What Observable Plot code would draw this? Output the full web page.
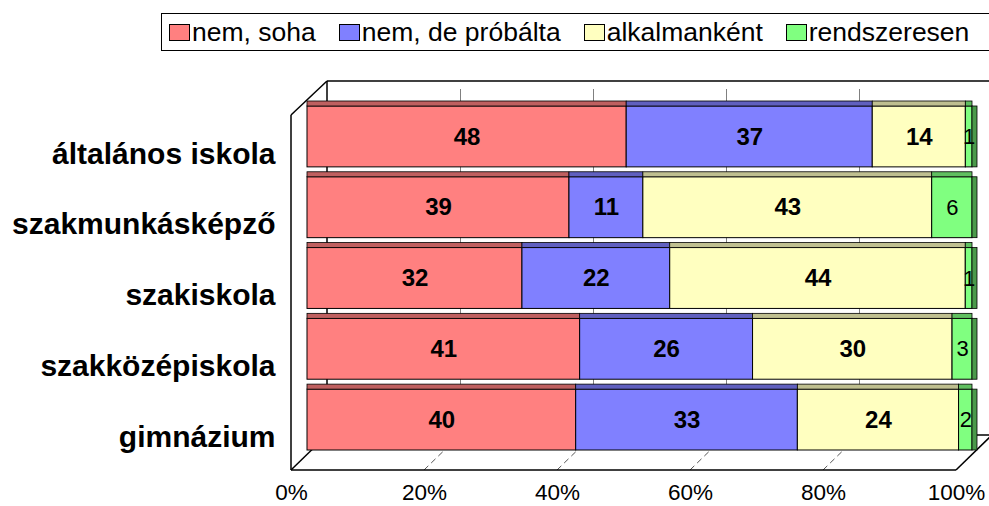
<!DOCTYPE html>
<html>
<head>
<meta charset="utf-8">
<script src="https://cdn.jsdelivr.net/npm/d3@7"></script>
<script src="https://cdn.jsdelivr.net/npm/@observablehq/plot@0.6"></script>
<style>
html,body{margin:0;padding:0;background:#fff;overflow:hidden;}
#wrap{position:relative;width:989px;height:506px;overflow:hidden;background:#fff;}
#chart{position:absolute;left:0;top:0;}
#legend{position:absolute;left:161px;top:13px;width:900px;height:36px;border:1px solid #000;display:flex;align-items:center;padding-left:7px;font-family:"Liberation Sans",Arial,sans-serif;font-size:26.5px;color:#000;background:#fff;z-index:2;}
.item{display:flex;align-items:center;margin-right:23px;white-space:nowrap;}
.sw{width:19px;height:15px;border:1px solid #000;margin-right:2px;flex:none;}
</style>
</head>
<body>
<div id="wrap"><div id="legend"></div><div id="chart"></div></div>
<script>
// ---- data ----
const cats = ["általános iskola", "szakmunkásképző", "szakiskola", "szakközépiskola", "gimnázium"];
const series = ["nem, soha", "nem, de próbálta", "alkalmanként", "rendszeresen"];
const nemSoha = [48, 39, 32, 41, 40];
const nemDeProbalta = [37, 11, 22, 26, 33];
const alkalmankent = [14, 43, 44, 30, 24];
const rendszeresen = [1, 6, 1, 3, 2];
const xTicks = [0, 0.2, 0.4, 0.6, 0.8, 1];

// ---- styles ----
const frontColors = ["#FF8080", "#8080FF", "#FFFFC0", "#80FF80"];
const topColors = ["#BF6060", "#6060BF", "#BFBF90", "#60BF60"];
const sideColor = "#4A9A4A";

const seriesValues = [nemSoha, nemDeProbalta, alkalmankent, rendszeresen];
const data = series.flatMap((s, si) => cats.map((c, ci) => ({cat: c, series: s, si, value: seriesValues[si][ci]})));

// ---- layout ----
const W = 989, H = 506;
const yRange = [106, 450], padIn = 0.14;
const step = (yRange[1] - yRange[0]) / (cats.length - padIn);
const BW = step * (1 - padIn);
const FRONT = -16, BACK = 20, DEPTH_Y = 35, TOP_GAP = 8, BAR_D = 5;

// legend
const legend = document.getElementById("legend");
series.forEach((s, i) => {
  const it = document.createElement("div"); it.className = "item";
  const sw = document.createElement("div"); sw.className = "sw"; sw.style.background = frontColors[i];
  const tx = document.createElement("span"); tx.textContent = s;
  it.appendChild(sw); it.appendChild(tx); legend.appendChild(it);
});

function walls(index, scales, values, dim) {
  const x = scales.x;
  const X0 = x(0), X1 = x(1);
  const backFloor = dim.height - dim.marginBottom;
  const frontFloor = backFloor + DEPTH_Y;
  const topBack = dim.marginTop - TOP_GAP;
  const topFront = topBack + DEPTH_Y - 1;
  const g = d3.create("svg:g").attr("fill", "none");
  g.selectAll(null).data(xTicks.slice(1, -1)).join("line")
    .attr("x1", p => x(p) + FRONT).attr("y1", frontFloor)
    .attr("x2", p => x(p) + BACK).attr("y2", backFloor)
    .attr("stroke", "#555").attr("stroke-width", 1).attr("stroke-dasharray", "6,4");
  const segs = [
    [X0 + FRONT, frontFloor, X1 + FRONT, frontFloor],
    [X1 + FRONT, frontFloor, X1 + BACK, backFloor],
    [X0 + FRONT, frontFloor, X0 + BACK, backFloor],
    [X0 + BACK, backFloor, X1 + BACK, backFloor],
    [X0 + FRONT, frontFloor, X0 + FRONT, topFront],
    [X0 + FRONT, topFront, X0 + BACK, topBack],
    [X0 + BACK, topBack, X0 + BACK, backFloor],
    [X0 + BACK, topBack, X1 + BACK, topBack],
    [X1 + BACK, topBack, X1 + BACK, backFloor]
  ];
  g.selectAll(null).data(segs).join("line")
    .attr("x1", d => d[0]).attr("y1", d => d[1]).attr("x2", d => d[2]).attr("y2", d => d[3])
    .attr("stroke", "#000").attr("stroke-width", 1.5);
  return g.node();
}

const stackOpts = {x: "value", y: "cat", z: "series", offset: "normalize"};

const plot = Plot.plot({
  width: W, height: H,
  marginLeft: 307, marginRight: 17, marginTop: 89, marginBottom: 71,
  x: {domain: [0, 1], axis: null},
  y: {domain: cats, range: yRange, paddingInner: padIn, paddingOuter: 0, round: false, axis: null},
  color: {type: "identity"},
  style: {fontFamily: "'Liberation Sans', Arial, sans-serif", background: "white", overflow: "visible"},
  marks: [
    walls,
    Plot.ruleX(xTicks.slice(1, -1), {x: d => d, dx: BACK, stroke: "#808080", strokeWidth: 1}),
    Plot.barX(data, Plot.stackX({...stackOpts, fill: d => frontColors[d.si], stroke: "#000", strokeWidth: 1})),
    Plot.barX(data, Plot.stackX({...stackOpts, fill: d => topColors[d.si], stroke: "#000", strokeWidth: 0.8,
      insetTop: -BAR_D, insetBottom: BW, ariaLabel: "topface"})),
    Plot.barX(cats, {y: d => d, x1: () => 1, x2: () => 1, insetRight: -BAR_D, fill: sideColor, stroke: "#000", strokeWidth: 0.8, ariaLabel: "sideface"}),
    Plot.text(data, Plot.stackX({...stackOpts, text: d => d.si < 3 ? String(d.value) : "", fontWeight: "bold", fontSize: 24, fill: "#000", lineAnchor: "middle"})),
    Plot.text(data, Plot.stackX({...stackOpts, text: d => d.si === 3 ? String(d.value) : "", fontSize: 22, fill: "#000", lineAnchor: "middle"})),
    Plot.text(cats, {y: d => d, text: d => d, frameAnchor: "left", textAnchor: "end", dx: -32, dy: 17, fontSize: 30, fontWeight: "bold", fill: "#000", lineAnchor: "middle"}),
    Plot.text(xTicks, {x: d => d, text: d => d3.format(".0%")(d), frameAnchor: "bottom", lineAnchor: "middle", dx: FRONT, dy: 57, fontSize: 22.5, fill: "#000"})
  ]
});

// give the 3D faces their slant (skew about the edge they share with the front face)
const svgSel = d3.select(plot);
svgSel.selectAll('g[aria-label="topface"] rect').each(function () {
  const r = d3.select(this);
  const yb = +r.attr("y") + +r.attr("height");
  r.attr("transform", `translate(0,${yb}) skewX(-45) translate(0,${-yb})`);
});
svgSel.selectAll('g[aria-label="sideface"] rect').each(function () {
  const r = d3.select(this);
  const x0 = +r.attr("x");
  r.attr("transform", `translate(${x0},0) skewY(-45) translate(${-x0},0)`);
});
document.getElementById("chart").appendChild(plot);
</script>
</body>
</html>
